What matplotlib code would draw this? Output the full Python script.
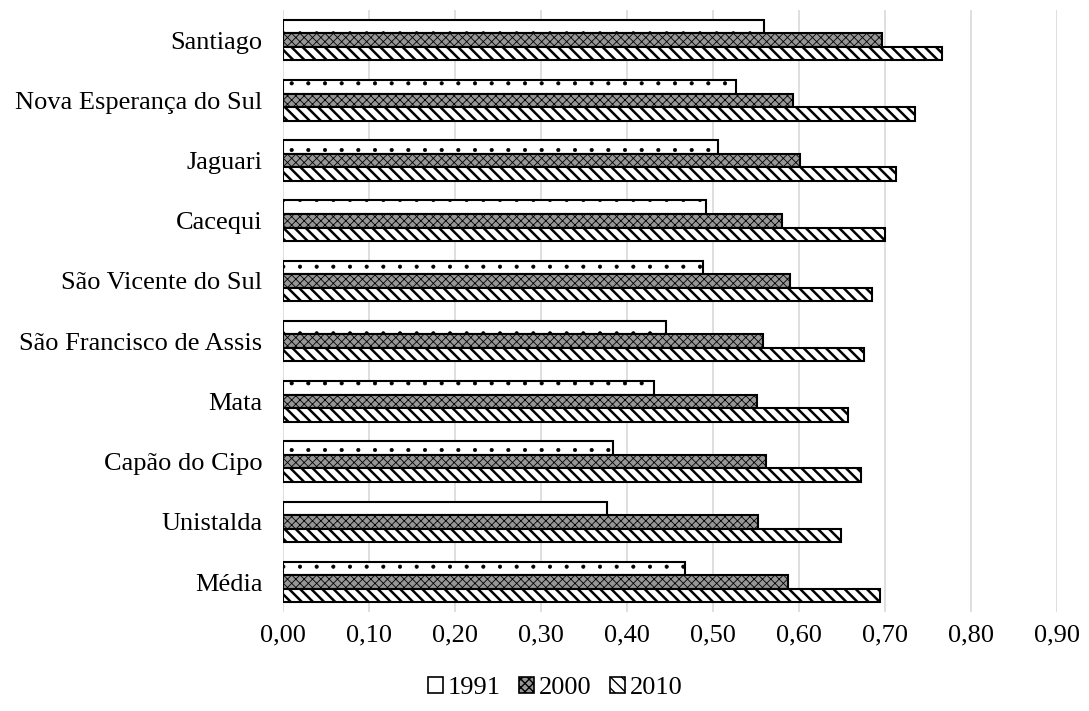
import matplotlib.pyplot as plt
import numpy as np
from matplotlib.patches import Patch

plt.rcParams['font.family'] = ['Liberation Serif', 'DejaVu Serif']

municipios = ["Santiago", "Nova Esperança do Sul", "Jaguari", "Cacequi",
              "São Vicente do Sul", "São Francisco de Assis", "Mata",
              "Capão do Cipo", "Unistalda", "Média"]
idhm_1991 = [0.559, 0.526, 0.506, 0.491, 0.488, 0.445, 0.431, 0.383, 0.376, 0.467]
idhm_2000 = [0.696, 0.593, 0.601, 0.580, 0.589, 0.558, 0.551, 0.561, 0.552, 0.587]
idhm_2010 = [0.766, 0.735, 0.712, 0.700, 0.685, 0.675, 0.656, 0.672, 0.649, 0.694]
anos = ["1991", "2000", "2010"]

fig = plt.figure(figsize=(10.89, 7.11), dpi=100)
ax = fig.add_axes([0.26, 0.139, 0.711, 0.847])

y = np.arange(len(municipios))
h = 0.225

# estilo de cada serie: (cor de fundo, hachura, espessura da hachura)
estilos = [("white", ".", 0.5), ("#969696", "xxxx", 0.6), ("white", "\\\\\\", 1.8)]
series = [idhm_1991, idhm_2000, idhm_2010]

for i, (vals, (fc, hatch, hlw)) in enumerate(zip(series, estilos)):
    barras = ax.barh(y + (i - 1) * h, vals, height=h, color=fc, hatch=hatch,
                     edgecolor="black", linewidth=1.5, zorder=3)
    for b in barras:
        b.set_hatch_linewidth(hlw)

ax.set_ylim(len(municipios) - 0.5, -0.5)
ax.set_xlim(0, 0.9)
ax.set_xticks(np.arange(0, 0.91, 0.1))
ax.set_xticklabels([f"{v:.2f}".replace(".", ",") for v in np.arange(0, 0.91, 0.1)])
ax.set_yticks(y)
ax.set_yticklabels(municipios)
ax.tick_params(axis="both", length=0, labelsize=19, colors="black")
ax.tick_params(axis="x", pad=9)
ax.tick_params(axis="y", pad=15)
ax.grid(axis="x", color="#d9d9d9", linewidth=1.2, zorder=0)
for s in ax.spines.values():
    s.set_visible(False)

# legenda: quadradinhos simples, 1991 sem pontos
handles = []
for j, (fc, hatch, hlw) in enumerate(estilos):
    p = Patch(facecolor=fc, hatch=None if j == 0 else hatch,
              edgecolor="black", linewidth=1.2)
    p.set_hatch_linewidth(min(hlw, 1.0))
    handles.append(p)
fig.legend(handles, anos, loc="center", bbox_to_anchor=(0.51, 0.032), ncol=3,
           frameon=False, fontsize=19, handlelength=0.55, handleheight=0.55,
           handletextpad=0.2, columnspacing=0.7)

fig.savefig("out.png", dpi=100)
